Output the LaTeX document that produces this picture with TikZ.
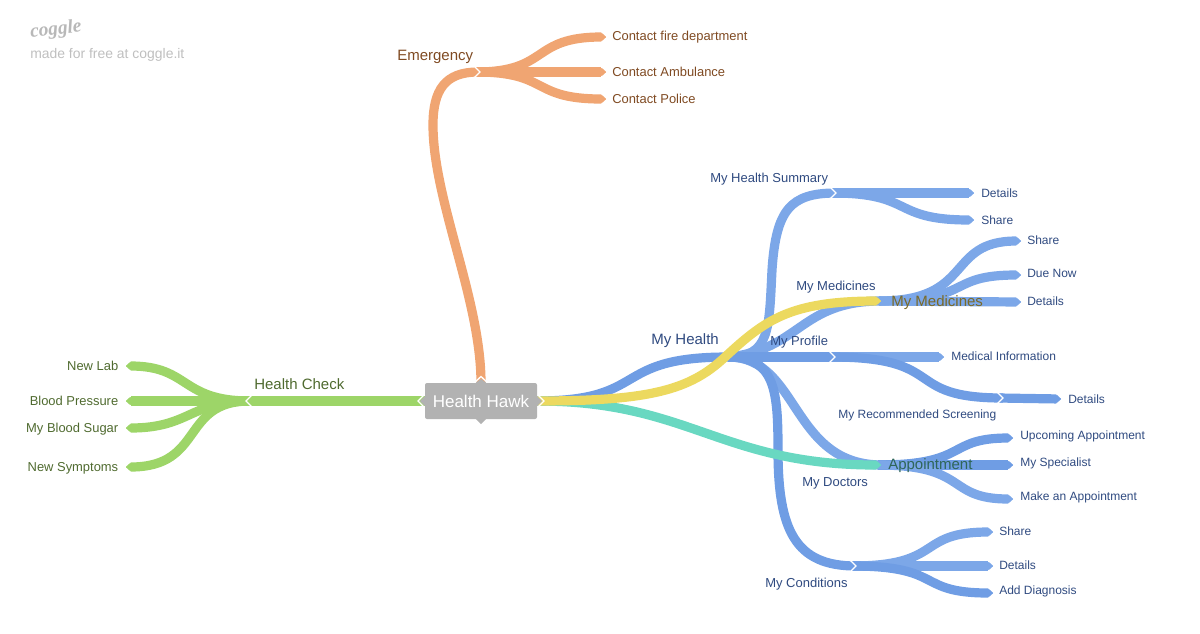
\documentclass[tikz,border=0pt]{standalone}
\usepackage{fontspec}
\setmainfont{Liberation Sans}
\newfontfamily\logofont{Liberation Serif}
\usetikzlibrary{arrows.meta}
\definecolor{orangeL}{HTML}{F0A572}
\definecolor{greenL}{HTML}{9DD568}
\definecolor{blueL}{HTML}{7CA7E8}
\definecolor{blueM}{HTML}{6F9DE4}
\definecolor{yellowL}{HTML}{ECD95F}
\definecolor{tealL}{HTML}{69D8C1}
\definecolor{orangeT}{HTML}{7F4A22}
\definecolor{greenT}{HTML}{4F6A2F}
\definecolor{blueT}{HTML}{2F4A80}
\definecolor{yellowT}{HTML}{7A6A28}
\definecolor{tealT}{HTML}{2F6659}
\tikzset{
  x=0.75pt,y=-0.75pt,
  branch/.style={line width=6.9pt,line cap=butt},
  leaf/.style={branch,-{Triangle[length=4pt,width=6.9pt,round=false]}},
  chev/.style={draw=white,line width=1pt},
  lab/.style={anchor=west,inner sep=0pt,yshift=-1.1pt,font=\fontsize{9.7pt}{11pt}\selectfont},
  small/.style={lab,text=blueT,yshift=0.5pt,font=\fontsize{9pt}{11pt}\selectfont},
  mid/.style={lab,text=blueT,font=\fontsize{9.75pt}{12pt}\selectfont},
  big/.style={lab,font=\fontsize{11.25pt}{13pt}\selectfont},
}
\begin{document}
\begin{tikzpicture}
\useasboundingbox (0,0) rectangle (1200,633);
% junction coordinates
\coordinate (rootT) at (481,383);
\coordinate (rootL) at (425,401);
\coordinate (rootR) at (537,401);
\coordinate (emIn) at (478,72);
\coordinate (emOut) at (476,72);
\coordinate (hcIn) at (246,401);
\coordinate (hcOut) at (250,401);
\coordinate (hub) at (728,357);
\coordinate (sumIn) at (836,193);
\coordinate (sumOut) at (832,193);
\coordinate (medIn) at (881,301);
\coordinate (medOut) at (879,301);
\coordinate (proIn) at (835,357);
\coordinate (proOut) at (831,357);
\coordinate (recIn) at (1003,398);
\coordinate (recOut) at (999,398);
\coordinate (docIn) at (882,465);
\coordinate (docOut) at (878,465);
\coordinate (conIn) at (856,566);
\coordinate (conOut) at (852,566);
\coordinate (apEnd) at (881,465);
\coordinate (c1) at (606,37);
\coordinate (c2) at (606,72);
\coordinate (c3) at (606,99);
\coordinate (g1) at (126,366);
\coordinate (g2) at (126,401);
\coordinate (g3) at (126,428);
\coordinate (g4) at (126,467);
\coordinate (s1) at (974,193);
\coordinate (s2) at (974,220);
\coordinate (m1) at (1021,241);
\coordinate (m2) at (1021,275);
\coordinate (m3) at (1021,302);
\coordinate (p1) at (944,357);
\coordinate (r1) at (1061,399);
\coordinate (a1) at (1013,438);
\coordinate (a2) at (1013,465);
\coordinate (a3) at (1013,499);
\coordinate (d1) at (993,532);
\coordinate (d2) at (993,566);
\coordinate (d3) at (993,593);
% orange
\draw[branch,orangeL] (rootT) .. controls (481,300) and (433,200) .. (433,125) .. controls (433,90) and (445,72) .. (emIn);
\draw[leaf,orangeL] (emOut) .. controls (550,72) and (530,37) .. (c1);
\draw[leaf,orangeL] (emOut) -- (c2);
\draw[leaf,orangeL] (emOut) .. controls (550,72) and (530,99) .. (c3);
% green
\draw[branch,greenL] (rootL) -- (hcIn);
\draw[leaf,greenL] (hcOut) .. controls (180,401) and (190,366) .. (g1);
\draw[leaf,greenL] (hcOut) -- (g2);
\draw[leaf,greenL] (hcOut) .. controls (190,401) and (190,428) .. (g3);
\draw[leaf,greenL] (hcOut) .. controls (180,401) and (205,467) .. (g4);
% blue main
\draw[branch,blueM] (rootR) .. controls (650,401) and (610,357) .. (hub);
\draw[branch,blueL] (hub) .. controls (770,357) and (769,330) .. (772,270) .. controls (776,210) and (790,193) .. (sumIn);
\draw[branch,blueL] (hub) .. controls (800,350) and (800,301) .. (medIn);
\draw[branch,blueM] (hub) -- (proIn);
\draw[branch,blueL] (hub) .. controls (800,357) and (790,465) .. (docIn);
\draw[branch,blueM] (hub) .. controls (775,357) and (778,390) .. (778,450) .. controls (778,530) and (795,566) .. (conIn);
\draw[leaf,blueL] (sumOut) -- (s1);
\draw[leaf,blueL] (sumOut) .. controls (915,193) and (890,220) .. (s2);
\draw[leaf,blueL] (medOut) .. controls (975,301) and (945,241) .. (m1);
\draw[leaf,blueL] (medOut) .. controls (975,301) and (945,275) .. (m2);
\draw[leaf,blueL] (medOut) -- (m3);
\draw[leaf,blueL] (proOut) -- (p1);
\draw[branch,blueM] (proOut) .. controls (950,357) and (900,398) .. (recIn);
\draw[leaf,blueM] (recOut) -- (r1);
\draw[leaf,blueM] (docOut) .. controls (970,465) and (945,438) .. (a1);
\draw[leaf,blueM] (docOut) -- (a2);
\draw[leaf,blueL] (docOut) .. controls (970,465) and (945,499) .. (a3);
\draw[leaf,blueL] (conOut) .. controls (945,566) and (915,532) .. (d1);
\draw[leaf,blueL] (conOut) -- (d2);
\draw[leaf,blueM] (conOut) .. controls (945,566) and (915,593) .. (d3);
% yellow and teal
\draw[leaf,tealL] (rootR) .. controls (690,401) and (720,465) .. (apEnd);
\draw[leaf,yellowL] (rootR) .. controls (650,401) and (690,390) .. (725,357) .. controls (765,320) and (790,301) .. (medIn);
% chevrons
\draw[chev] (474,66) -- (480,72) -- (474,78);
\draw[chev] (252,395) -- (246,401) -- (252,407);
\draw[chev] (830,187) -- (836,193) -- (830,199);
\draw[chev] (829,351) -- (835,357) -- (829,363);
\draw[chev] (997,392) -- (1003,398) -- (997,404);
\draw[chev] (850,560) -- (856,566) -- (850,572);
% root
\fill[black!30] (481,379) -- (488,384) -- (474,384) -- cycle;
\fill[black!30] (481,424) -- (487,418) -- (475,418) -- cycle;
\fill[black!30] (420,401) -- (426,395) -- (426,407) -- cycle;
\fill[black!30] (542,401) -- (536,395) -- (536,407) -- cycle;
\draw[chev] (474,383) -- (481,376.5) -- (488,383);
\draw[chev] (424,395) -- (418,401) -- (424,407);
\draw[chev] (538,395) -- (544,401) -- (538,407);
\node[rectangle,rounded corners=1.5pt,fill=black!30,text=white,minimum width=84pt,minimum height=27pt,inner sep=0pt,font=\fontsize{12.75pt}{15pt}\selectfont] (root) at (481,401) {Health Hawk};
% labels
\node[big,text=orangeT] (emergency) at (397,55) {Emergency};
\node[lab,text=orangeT] (cf) at (612,36) {Contact fire department};
\node[lab,text=orangeT] (ca) at (612,70.5) {Contact Ambulance};
\node[lab,text=orangeT] (cp) at (612,97.5) {Contact Police};
\node[big,text=greenT] (hc) at (254,383) {Health Check};
\node[lab,anchor=east,text=greenT] (nl) at (118.5,364.5) {New Lab};
\node[lab,anchor=east,text=greenT] (bp) at (118.5,399.5) {Blood Pressure};
\node[lab,anchor=east,text=greenT] (bs) at (118.5,427.5) {My Blood Sugar};
\node[lab,anchor=east,text=greenT] (ns) at (118.5,466.5) {New Symptoms};
\node[big,text=blueT] (mh) at (651,339) {My Health};
\node[mid] (mhs) at (710,178) {My Health Summary};
\node[small] (sd) at (981,192) {Details};
\node[small] (ss) at (981,219) {Share};
\node[mid] (mm) at (796,286) {My Medicines};
\node[big,text=yellowT] (mmy) at (891,301) {My Medicines};
\node[small] (ms) at (1027,239) {Share};
\node[small] (md) at (1027,273) {Due Now};
\node[small] (mdt) at (1027,300) {Details};
\node[mid] (mp) at (770,341) {My Profile};
\node[small] (mi) at (951,355) {Medical Information};
\node[small] (mrs) at (838,415) {My Recommended Screening};
\node[small] (rd) at (1068,398) {Details};
\node[big,text=tealT] (ap) at (888,464) {Appointment};
\node[mid] (mdo) at (802,482) {My Doctors};
\node[small] (au) at (1020,436) {Upcoming Appointment};
\node[small] (as) at (1020,463) {My Specialist};
\node[small] (am) at (1020,497) {Make an Appointment};
\node[mid] (mc) at (765,583) {My Conditions};
\node[small] (cs) at (999,530) {Share};
\node[small] (cd) at (999,564) {Details};
\node[small] (cad) at (999,591) {Add Diagnosis};
% logo
\node[lab,text=black!25,font=\fontsize{10.45pt}{13pt}\selectfont] (made) at (30,53) {made for free at coggle.it};
\node[lab,text=black!28,rotate=6,font=\logofont\fontsize{14.5pt}{16pt}\itshape\bfseries\selectfont] (logo) at (30,31) {coggle};
\end{tikzpicture}
\end{document}
